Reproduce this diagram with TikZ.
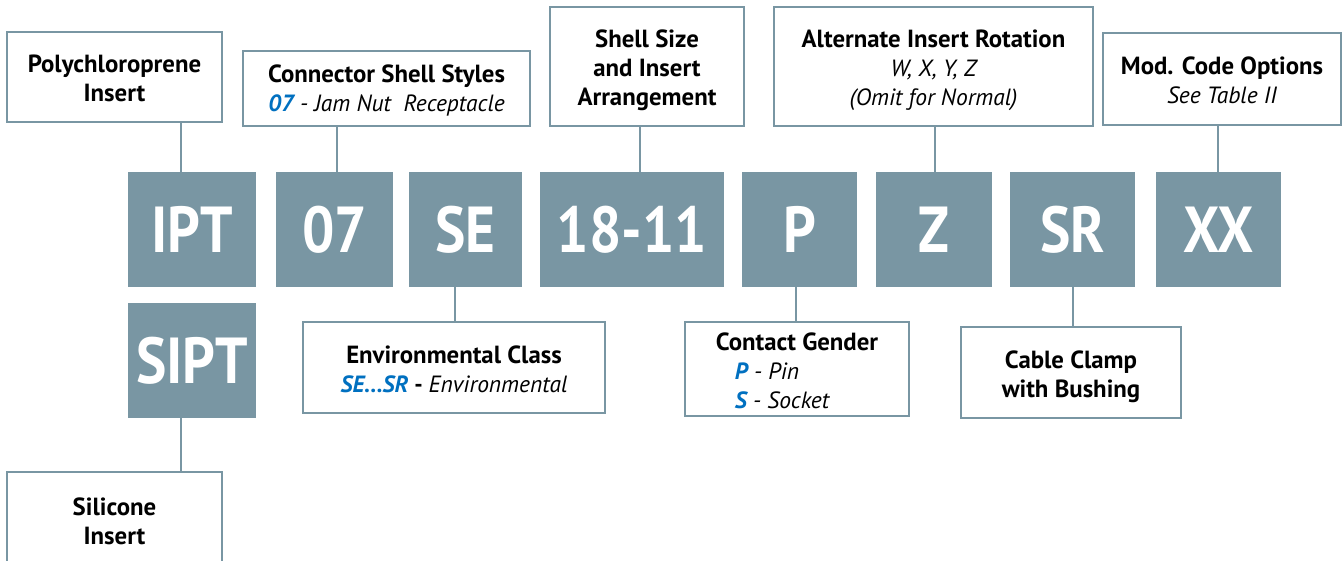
\documentclass[tikz,border=0pt]{standalone}
\usepackage{fontspec}
\setmainfont{PT Sans}
\definecolor{boxc}{RGB}{121,150,163}
\definecolor{bluet}{RGB}{0,112,192}
\newcommand{\itl}[1]{{\fontsize{23.5}{29}\selectfont\itshape #1}}
\newcommand{\cde}[1]{\scalebox{0.88}[1]{#1}}
\newcommand{\tp}{\rule{0pt}{26pt}}
\newcommand{\tq}{\rule{0pt}{21pt}}
\begin{document}
\begin{tikzpicture}[x=1pt,y=-1pt,
  lbl/.style={draw=boxc, line width=2pt, fill=white, align=center, inner sep=0pt,
    font=\fontsize{24.8}{29}\selectfont},
  code/.style={fill=boxc, text=white, inner sep=0pt, minimum height=115pt,
    font=\fontsize{65}{65}\selectfont\bfseries},
  link/.style={draw=boxc, line width=2pt}]
\useasboundingbox (0,0) rectangle (1342,560);

% code boxes
\node[code, minimum width=128pt] (ipt) at (192,229.5) {\cde{IPT}};
\node[code, minimum width=117pt] (c07) at (334.5,229.5) {\cde{07}};
\node[code, minimum width=113pt] (se) at (465.5,229.5) {\cde{SE}};
\node[code, minimum width=184pt] (size) at (632,229.5) {\cde{18-11}};
\node[code, minimum width=115pt] (pp) at (799.5,229.5) {\cde{P}};
\node[code, minimum width=116pt] (zz) at (934,229.5) {\cde{Z}};
\node[code, minimum width=125pt] (sr) at (1072.5,229.5) {\cde{SR}};
\node[code, minimum width=125pt] (xx) at (1218.5,229.5) {\cde{XX}};
\node[code, minimum width=128pt] (sipt) at (192,360.5) {\cde{SIPT}};

% label boxes
\node[lbl, minimum width=215pt, minimum height=90pt] (poly) at (114.5,77)
  {\tq\textbf{Polychloroprene}\\\textbf{Insert}};
\node[lbl, minimum width=287pt, minimum height=75pt] (shellst) at (386.5,88.5)
  {\tq\textbf{Connector Shell Styles}\\\itl{\textcolor{bluet}{\textbf{07}} - Jam Nut\ \ Receptacle}};
\node[lbl, minimum width=194pt, minimum height=119pt] (shellsz) at (647,66.5)
  {\tp\textbf{Shell Size}\\\textbf{and Insert}\\\textbf{Arrangement}};
\node[lbl, minimum width=319pt, minimum height=119pt] (alt) at (933.5,66.5)
  {\tp\textbf{Alternate Insert Rotation}\\\itl{W, X, Y, Z}\\\itl{(Omit for Normal)}};
\node[lbl, minimum width=238pt, minimum height=92pt] (mod) at (1222,79)
  {\tq\textbf{Mod. Code Options}\\\itl{See Table II}};
\node[lbl, minimum width=302pt, minimum height=91pt] (env) at (454,367.5)
  {\tq\textbf{Environmental Class}\\\itl{\textcolor{bluet}{\textbf{SE...SR}}\textbf{\upshape\ -\ }Environmental}};
\node[lbl, minimum width=224pt, minimum height=94pt, align=left] (gender) at (797,369)
  {\tq\textbf{Contact Gender}\\\hspace*{19pt}\itl{\textcolor{bluet}{\textbf{P}} - Pin}\\\hspace*{19pt}\itl{\textcolor{bluet}{\textbf{S}} - Socket}};
\node[lbl, minimum width=220pt, minimum height=91pt] (clamp) at (1071,372.5)
  {\tp\textbf{Cable Clamp}\\\textbf{with Bushing}};
\node[lbl, minimum width=215pt, minimum height=96pt] (sil) at (114.5,520)
  {\tq\textbf{Silicone}\\\textbf{Insert}};

% connectors
\draw[link] (poly.south -| 181,0) -- (ipt.north -| 181,0);
\draw[link] (shellst.south -| 337,0) -- (c07.north -| 337,0);
\draw[link] (shellsz.south -| 640,0) -- (size.north -| 640,0);
\draw[link] (alt.south -| 935,0) -- (zz.north -| 935,0);
\draw[link] (mod.south -| 1218,0) -- (xx.north -| 1218,0);
\draw[link] (se.south -| 455,0) -- (env.north -| 455,0);
\draw[link] (pp.south -| 796,0) -- (gender.north -| 796,0);
\draw[link] (sr.south -| 1073,0) -- (clamp.north -| 1073,0);
\draw[link] (sipt.south -| 181,0) -- (sil.north -| 181,0);
\end{tikzpicture}
\end{document}
